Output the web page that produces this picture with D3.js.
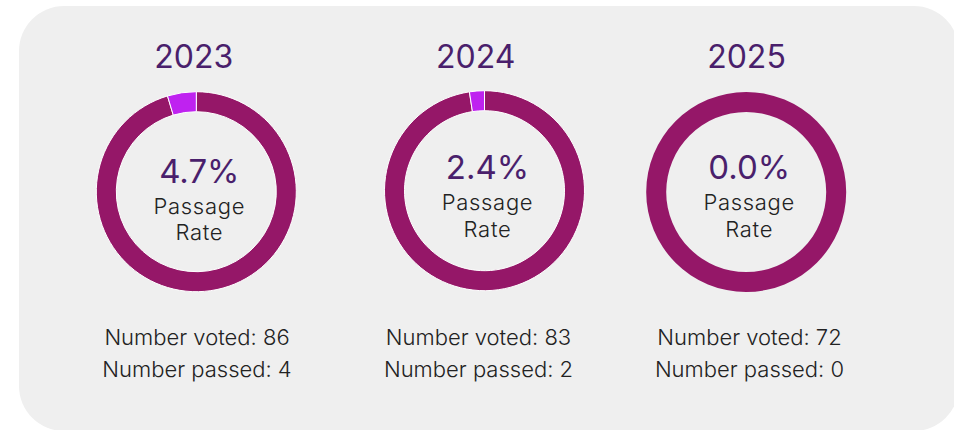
<!DOCTYPE html>
<html>
<head>
<meta charset="utf-8">
<script src="https://cdn.jsdelivr.net/npm/d3@7"></script>
<style>
  html, body { margin: 0; padding: 0; background: #ffffff; }
  svg { display: block; font-family: Inter, "Noto Sans", sans-serif; }
</style>
</head>
<body>
<svg width="954" height="430"></svg>
<script>
// data
var years = ["2023", "2024", "2025"];
var voted = [86, 83, 72];
var passed = [4, 2, 0];

var svg = d3.select("svg");
var width = 954, height = 430;

var ringColor = "#951768";
var passColor = "#bf22f0";
var titleColor = "#4a1f6c";
var textColor = "#222222";

// panel layout
var xDonut = d3.scaleOrdinal().domain(years).range([196.3, 484.5, 746.2]);
var yDonut = d3.scaleOrdinal().domain(years).range([191.7, 190.7, 192]);
var xTitle = d3.scaleOrdinal().domain(years).range([193.7, 475.7, 746.5]);
var xInfo = d3.scaleOrdinal().domain(years).range([197, 478.5, 749.5]);
var yShift = d3.scaleOrdinal().domain(years).range([3.5, 0, 0]);

var outerR = 100, innerR = 80;

svg.append("rect")
    .attr("x", 19)
    .attr("y", 6)
    .attr("width", 940)
    .attr("height", 425)
    .attr("rx", 45)
    .attr("fill", "#efefef");

var pie = d3.pie().sort(null).value(function(d) { return d.value; });
var arc = d3.arc().innerRadius(innerR).outerRadius(outerR);

var panels = years.map(function(y, i) {
    return { year: y, voted: voted[i], passed: passed[i] };
});

var g = svg.append("g").attr("class", "panels")
    .selectAll("g")
    .data(panels)
    .enter().append("g");

g.append("text")
    .attr("x", function(d) { return xTitle(d.year); })
    .attr("y", 67.5)
    .attr("text-anchor", "middle")
    .attr("fill", titleColor)
    .style("font-size", "32px")
    .style("font-weight", 400)
    .text(function(d) { return d.year; });

var donut = g.append("g")
    .attr("transform", function(d) { return "translate(" + xDonut(d.year) + "," + yDonut(d.year) + ")"; });

donut.selectAll("path")
    .data(function(d) {
        return pie([
            { key: "failed", value: d.voted - d.passed },
            { key: "passed", value: d.passed }
        ]).filter(function(a) { return a.data.value > 0; });
    })
    .enter().append("path")
    .attr("d", arc)
    .attr("fill", function(a) { return a.data.key === "passed" ? passColor : ringColor; })
    .attr("stroke", function(a, i, nodes) { return nodes.length > 1 ? "#ffffff" : "none"; })
    .attr("stroke-width", 1);

var center = g.append("g")
    .attr("transform", function(d) {
        return "translate(" + (xDonut(d.year) + 3) + "," + yShift(d.year) + ")";
    })
    .attr("text-anchor", "middle");

center.append("text")
    .attr("y", 179.3)
    .attr("fill", titleColor)
    .style("font-size", "33px")
    .style("font-weight", 400)
    .text(function(d) { return (d.passed / d.voted * 100).toFixed(1) + "%"; });

center.append("text")
    .attr("y", 210)
    .attr("fill", textColor)
    .style("font-size", "22px")
    .style("font-weight", 300)
    .style("letter-spacing", "0.7px")
    .text("Passage");

center.append("text")
    .attr("y", 236.5)
    .attr("fill", textColor)
    .style("font-size", "22px")
    .style("font-weight", 300)
    .style("letter-spacing", "0.7px")
    .text("Rate");

var info = g.append("g")
    .attr("text-anchor", "middle")
    .attr("fill", textColor)
    .style("font-size", "22px")
    .style("font-weight", 300);

info.append("text")
    .attr("x", function(d) { return xInfo(d.year); })
    .attr("y", 345)
    .text(function(d) { return "Number voted: " + d.voted; });

info.append("text")
    .attr("x", function(d) { return xInfo(d.year); })
    .attr("y", 376.7)
    .text(function(d) { return "Number passed: " + d.passed; });
</script>
</body>
</html>
